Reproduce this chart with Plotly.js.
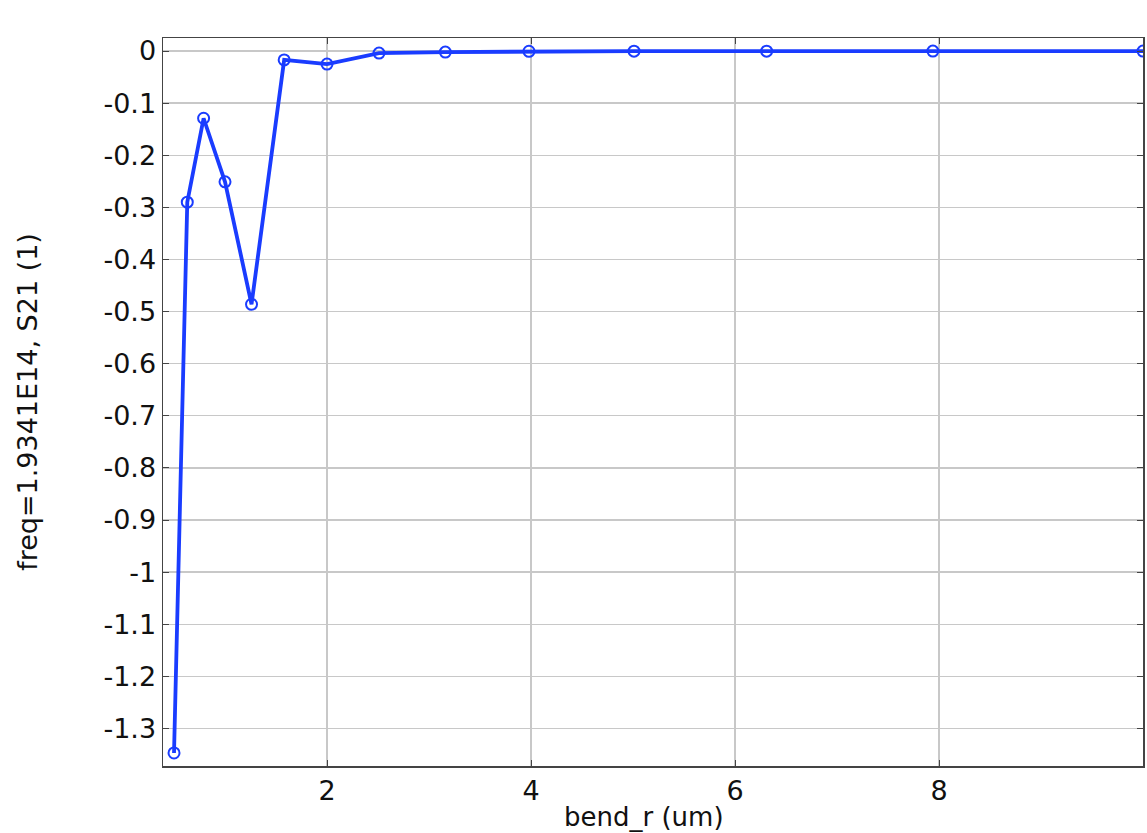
<!DOCTYPE html>
<html><head><meta charset="utf-8">
<script src="https://cdn.plot.ly/plotly-3.0.1.min.js"></script>
<style>html,body{margin:0;padding:0;background:#fff;}#plot{width:1147px;height:833px;}</style>
</head><body><div id="plot"></div>
<script>
const bendR = [0.5, 0.63, 0.79, 1.0, 1.26, 1.58, 2.0, 2.51, 3.16, 3.98, 5.01, 6.31, 7.94, 10.0];
const s21 = [-1.347, -0.29, -0.129, -0.251, -0.486, -0.017, -0.025, -0.004, -0.002, -0.0005, -0.0003, -0.0002, -0.0001, -0.0001];
const yTicks = [0, -0.1, -0.2, -0.3, -0.4, -0.5, -0.6, -0.7, -0.8, -0.9, -1, -1.1, -1.2, -1.3];
const yTickLabels = ['0','-0.1','-0.2','-0.3','-0.4','-0.5','-0.6','-0.7','-0.8','-0.9','-1','-1.1','-1.2','-1.3'];
const xTicks = [2, 4, 6, 8];
const xTitle = 'bend_r (um)';
const yTitle = 'freq=1.9341E14, S21 (1)';

const trace = {
  x: bendR, y: s21, type: 'scatter', mode: 'lines+markers',
  line: {color: '#1a3cff', width: 3.8},
  marker: {symbol: 'circle-open', size: 11, color: '#1a3cff', line: {width: 2, color: '#1a3cff'}},
  hoverinfo: 'skip'
};
const tickFont = {family: 'DejaVu Sans, sans-serif', size: 27, color: '#111'};
const xTitleFont = {family: 'DejaVu Sans, sans-serif', size: 26, color: '#111'};
const yTitleFont = {family: 'DejaVu Sans, sans-serif', size: 27, color: '#111'};
const layout = {
  width: 1147, height: 833,
  margin: {l: 163, r: 4, t: 38, b: 67},
  paper_bgcolor: '#fff', plot_bgcolor: '#fff',
  showlegend: false,
  font: tickFont,
  xaxis: {
    range: [0.392, 10.0], tickvals: xTicks, ticktext: xTicks.map(String),
    showgrid: true, gridcolor: '#c8c8c8', gridwidth: 1.3,
    showline: true, linecolor: '#444', linewidth: 1.5, mirror: 'ticks',
    ticks: 'inside', ticklen: 6, tickcolor: '#444',
    zeroline: false, tickfont: tickFont
  },
  yaxis: {
    range: [-1.372, 0.025], tickvals: yTicks, ticktext: yTickLabels,
    showgrid: true, gridcolor: '#c8c8c8', gridwidth: 1.3,
    showline: true, linecolor: '#444', linewidth: 1.5, mirror: 'ticks',
    ticks: 'inside', ticklen: 6, tickcolor: '#444',
    zeroline: false, tickfont: tickFont,
    title: {text: yTitle, font: yTitleFont, standoff: 58}
  },
  annotations: [{
    text: xTitle, font: xTitleFont, showarrow: false,
    xref: 'paper', yref: 'paper', x: 0.5745, y: -0.093,
    xanchor: 'right', yanchor: 'bottom'
  }]
};
Plotly.newPlot('plot', [trace], layout, {displayModeBar: false, staticPlot: true});
</script></body></html>
